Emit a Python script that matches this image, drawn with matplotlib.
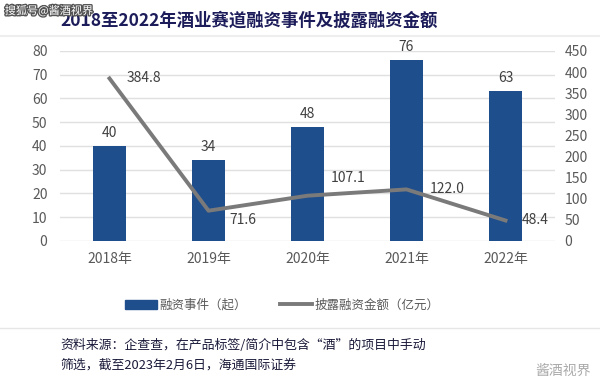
import numpy as np
import matplotlib.pyplot as plt
import matplotlib.patheffects as pe
from matplotlib.lines import Line2D
from matplotlib.patches import Patch

plt.rcParams['font.family'] = ['Noto Sans CJK SC', 'DejaVu Sans']

# ----------------------------
# data
# ----------------------------
years = ["2018年", "2019年", "2020年", "2021年", "2022年"]
events = [40, 34, 48, 76, 63]
amounts = [384.8, 71.6, 107.1, 122.0, 48.4]

BAR_COLOR = "#1f4e8c"
LINE_COLOR = "#7a7a7a"
TICK_COLOR = "#595959"

fig = plt.figure(figsize=(6, 3.8), dpi=100)
ax = fig.add_axes([0.1, 0.366, 0.825, 0.5])
ax2 = ax.twinx()

x = np.arange(len(years))
ax.bar(x, events, width=0.33, color=BAR_COLOR, zorder=2)
for xi, v in zip(x, events):
    ax.text(xi, v + 2.5, str(v), ha="center", va="bottom", fontsize=10, color="#404040")

ax.set_ylim(0, 80)
ax.set_yticks(range(0, 81, 10))
ax.set_xlim(-0.5, len(years) - 0.5)
ax.set_xticks(x)
ax.set_xticklabels(years)
ax.grid(axis="y", color="#e0e0e0", linewidth=1, zorder=0)
ax.set_axisbelow(True)

ax2.plot(x, amounts, color=LINE_COLOR, linewidth=2.8, zorder=3)
# label offsets (points) so labels sit like in the source chart
offsets = [(12, 0), (15, -7), (17, 13), (17, 0), (12, 0)]
for xi, v, (dx, dy) in zip(x, amounts, offsets):
    ax2.annotate(f"{v:.1f}", (xi, v), xytext=(dx, dy), textcoords="offset points",
                 ha="left", va="center", fontsize=10, color="#404040")
ax2.set_ylim(0, 450)
ax2.set_yticks(range(0, 451, 50))

for a in (ax, ax2):
    for s in a.spines.values():
        s.set_visible(False)
    a.tick_params(length=0, labelsize=10, colors=TICK_COLOR)
ax.tick_params(axis="y", pad=9)
ax2.tick_params(axis="y", pad=7)
ax.tick_params(axis="x", pad=8)

# legend
handles = [Patch(color=BAR_COLOR), Line2D([], [], color=LINE_COLOR, linewidth=2.8)]
fig.legend(handles, ["融资事件（起）", "披露融资金额（亿元）"], loc="center",
           bbox_to_anchor=(0.47, 0.197), ncol=2, frameon=False, fontsize=9,
           labelcolor=TICK_COLOR, handlelength=2.6, columnspacing=2.6, handletextpad=0.2)

# title + separators
fig.text(0.1, 0.945, "2018至2022年酒业赛道融资事件及披露融资金额", fontsize=12.5,
         fontweight="bold", color="#1c1c5a", va="center")
fig.add_artist(Line2D([0, 1], [0.905, 0.905], color="#eeeeee", linewidth=1.5))
fig.add_artist(Line2D([0, 1], [0.138, 0.138], color="#e6e6e6", linewidth=1))

# site watermark, drawn over the title start as in the source image
fig.text(0.008, 0.972, "搜狐号@酱酒视界", fontsize=8, color="white", va="center",
         path_effects=[pe.withStroke(linewidth=2, foreground="#555555")])

# source
fig.text(0.1, 0.09, "资料来源：企查查，在产品标签/简介中包含“酒”的项目中手动",
         fontsize=9.3, color="#1a1a3a", va="center")
fig.text(0.1, 0.038, "筛选，截至2023年2月6日，海通国际证券",
         fontsize=9.3, color="#1a1a3a", va="center")
fig.text(0.985, 0.025, "酱酒视界", fontsize=10, color="#aaaaaa", ha="right", va="center")

fig.savefig("out.png", dpi=100)
